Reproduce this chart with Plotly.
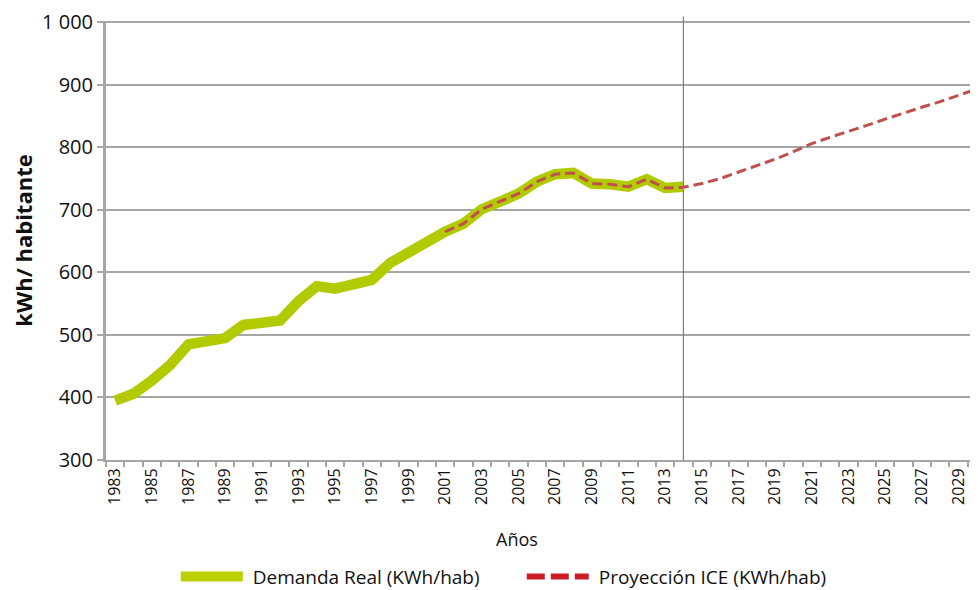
import plotly.graph_objects as go

# Axis categories (the last category is cut by the right edge, as in the source)
YEARS = [str(y) for y in range(1983, 2031)]

# Demanda real, kWh por habitante
REAL_YEARS = [str(y) for y in range(1983, 2015)]
DEMANDA_REAL = [395, 406, 427, 452, 485, 488, 495, 516, 521, 523,
                554, 578, 574, 581, 588, 615, 631, 651, 665, 678,
                701, 713, 726, 745, 757, 759, 742, 741, 737, 749,
                735, 737]

# Proyeccion ICE, kWh por habitante
ICE_YEARS = [str(y) for y in range(2001, 2031)]
PROYECCION_ICE = [665, 678, 701, 713, 726, 745, 757, 759, 742, 741,
                  737, 749, 735, 736, 742, 750, 760, 770, 781, 793,
                  806, 816, 825, 835, 845, 855, 864, 873, 883, 893]

Y_TICKS = [300, 400, 500, 600, 700, 800, 900, 1000]

GREEN = "#B2CB00"
RED_LINE = "#C0504D"
RED_LEGEND = "#CC1C24"
GRID = "#A6A6A6"
TXT = "#111111"
FONT = "Open Sans"

fig = go.Figure()

fig.add_trace(go.Scatter(
    x=REAL_YEARS, y=DEMANDA_REAL, mode="lines",
    line=dict(color=GREEN, width=10.5), showlegend=False,
))
fig.add_trace(go.Scatter(
    x=ICE_YEARS, y=PROYECCION_ICE, mode="lines",
    line=dict(color=RED_LINE, width=3, dash="10px,5px"), showlegend=False,
))

# legend-only entries (the source legend uses bolder swatches)
fig.add_trace(go.Scatter(
    x=[None], y=[None], mode="lines", name="\u00a0Demanda Real (KWh/hab)",
    line=dict(color="#BCD000", width=14),
))
fig.add_trace(go.Scatter(
    x=[None], y=[None], mode="lines", name="\u00a0Proyección ICE (KWh/hab)",
    line=dict(color=RED_LEGEND, width=6, dash="18px,6px"),
))

# boundary between real data and projection
split = YEARS.index(REAL_YEARS[-1])
fig.add_shape(type="line", xref="x", yref="paper",
              x0=split, x1=split, y0=0, y1=1.01,
              line=dict(color="#7F7F7F", width=1.2))

fig.add_annotation(text="Años", xref="paper", yref="paper",
                   x=0.471, y=-0.181, yanchor="middle", showarrow=False,
                   font=dict(family=FONT, size=18, color=TXT))

# the page body adds an ~8px offset, margins compensate for it
fig.update_layout(
    width=978, height=590,
    margin=dict(l=98, r=8, t=13, b=138, autoexpand=False),
    paper_bgcolor="white", plot_bgcolor="white",
    separators=". ",
    font=dict(family=FONT, color=TXT),
    legend=dict(
        orientation="h", x=0.080, xanchor="left", y=-0.266, yanchor="middle",
        font=dict(family=FONT, size=19, color=TXT),
        itemwidth=62, entrywidth=269, entrywidthmode="pixels",
    ),
)

fig.update_xaxes(
    type="category", categoryorder="array", categoryarray=YEARS,
    range=[-0.5, 47.07], automargin=False,
    tickmode="linear", tick0=0, dtick=1,
    tickson="boundaries", ticks="outside", ticklen=5, tickwidth=2, tickcolor=GRID,
    ticklabelstep=2, tickangle=-90,
    tickfont=dict(family=FONT, size=16, color=TXT),
    showgrid=False, showline=True, linecolor=GRID, linewidth=2,
)
# top of range nudged so the 1 000 gridline is not clipped at the edge
fig.update_yaxes(
    range=[300, 1002], tickvals=Y_TICKS, tickformat=",", automargin=False,
    ticklabeloverflow="allow",
    ticks="outside", ticklen=6, tickwidth=2, tickcolor=GRID,
    tickfont=dict(family=FONT, size=20, color=TXT),
    showgrid=True, gridcolor=GRID, gridwidth=2,
    showline=True, linecolor=GRID, linewidth=3,
    zeroline=False,
    title=dict(text="<b>kWh/ habitante</b>", standoff=6,
               font=dict(family=FONT, size=22, color=TXT)),
)

fig.write_html("out.html")
